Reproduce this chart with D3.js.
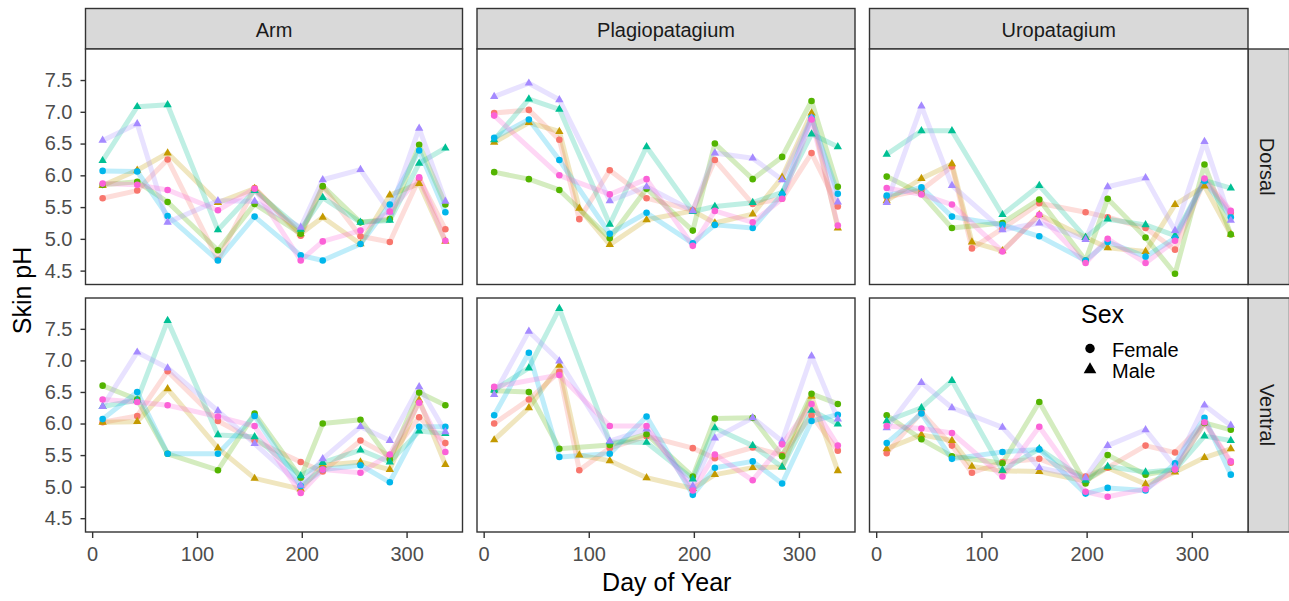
<!DOCTYPE html>
<html>
<head>
<meta charset="utf-8">
<script src="https://cdn.jsdelivr.net/npm/d3@7"></script>
<style>
  body { margin: 0; background: #fff; }
  svg { display: block; font-family: 'Liberation Sans', Arial, sans-serif; }
</style>
</head>
<body>
<svg id="chart" width="1289" height="601"></svg>
<script>
// sampling days (91 only for two bats in the membrane panels)
const days = [10, 43, 72, 91, 120, 155, 199, 220, 256, 284, 312, 337];
const bats = ['F1', 'M1', 'F2', 'M2', 'F3', 'M3', 'F4'];
const batSex = ['Female', 'Male', 'Female', 'Male', 'Female', 'Male', 'Female'];
const batColors = ['#F8766D', '#C49A00', '#53B400', '#00C094', '#00B6EB', '#A58AFF', '#FB61D7'];
const regions = ['Arm', 'Plagiopatagium', 'Uropatagium'];
const sides = ['Dorsal', 'Ventral'];
const xTicks = [0, 100, 200, 300];
const yTicks = [4.5, 5.0, 5.5, 6.0, 6.5, 7.0, 7.5];
const sexLevels = ['Female', 'Male'];

// one row per bat, one value per day
const dorsalArm = [
  [5.64, 5.76, 6.25, null, 4.67, 5.80, 5.05, 5.82, 5.04, 4.95, 5.95, 5.15],
  [5.84, 6.08, 6.35, null, 5.57, 5.79, 5.08, 5.34, 4.92, 5.69, 5.87, 4.96],
  [5.85, 5.90, 5.58, null, 4.82, 5.55, 5.08, 5.83, 5.26, 5.31, 6.48, 5.54],
  [6.23, 7.08, 7.11, null, 5.14, 5.76, 5.15, 5.65, 5.26, 5.29, 6.19, 6.43],
  [6.07, 6.06, 5.36, null, 4.66, 5.35, 4.74, 4.66, 4.92, 5.54, 6.39, 5.42],
  [6.55, 6.81, 5.26, null, 5.60, 5.59, 5.18, 5.93, 6.09, 5.42, 6.74, 5.59],
  [5.87, 5.85, 5.77, null, 5.45, 5.79, 4.66, 4.96, 5.13, 5.43, 5.97, 4.97]
];
const dorsalPlagio = [
  [6.98, 7.03, 6.56, 5.31, 6.08, 5.64, 5.45, 6.24, 5.55, 5.63, 6.35, 5.51],
  [6.52, 6.83, 6.69, 5.48, 4.91, 5.30, 5.44, 5.25, 5.39, 5.97, 6.98, 5.17],
  [6.05, 5.94, 5.77, null, 5.01, 5.79, 5.13, 6.50, 5.94, 6.29, 7.17, 5.82],
  [6.56, 7.20, 7.04, null, 5.23, 6.45, 5.43, 5.51, 5.57, 5.73, 6.65, 6.45],
  [6.59, 6.88, 6.24, null, 5.08, 5.41, 4.93, 5.22, 5.17, 5.70, 6.91, 5.71],
  [7.24, 7.45, 7.19, null, 5.60, 5.82, 5.44, 6.35, 6.27, 5.93, 6.90, 5.58],
  [6.94, null, 6.00, null, 5.70, 5.94, 4.89, 5.44, 5.26, 5.63, 6.88, 5.21]
];
const dorsalUro = [
  [5.66, 5.77, 6.14, 4.85, 5.16, 5.56, 5.42, 5.34, 5.17, 4.83, 5.92, 5.41],
  [5.60, 5.95, 6.18, 4.95, 4.81, 5.38, 5.02, 4.86, 4.80, 5.54, 5.83, 5.07],
  [5.98, 5.71, 5.17, null, 5.25, 5.62, 4.66, 5.63, 5.02, 4.45, 6.17, 5.07],
  [6.33, 6.70, 6.70, null, 5.38, 5.84, 5.02, 5.31, 5.22, 5.05, 5.92, 5.80],
  [5.68, 5.81, 5.35, null, 5.22, 5.04, 4.66, 4.95, 4.72, 5.01, 5.91, 5.34],
  [5.57, 7.09, 5.84, null, 5.14, 5.25, 4.99, 5.82, 5.96, 5.13, 6.53, 5.29],
  [5.80, 5.70, 5.54, null, 4.80, 5.38, 4.62, 5.00, 4.62, 4.97, 5.95, 5.44]
];
const ventralArm = [
  [6.02, 6.12, 6.83, null, 6.04, 5.73, 5.39, 5.24, 5.73, 5.48, 6.10, 5.69],
  [6.02, 6.03, 6.55, null, 5.61, 5.13, 4.96, 5.34, 5.39, 5.27, 6.37, 5.35],
  [6.60, 6.38, 5.52, null, 5.26, 6.16, 5.14, 6.00, 6.06, 5.43, 6.49, 6.29],
  [6.27, 6.37, 7.63, null, 5.82, 5.79, 5.17, 5.38, 5.58, 5.39, 5.88, 5.84],
  [6.07, 6.50, 5.52, null, 5.52, 6.12, 5.01, 5.27, 5.34, 5.07, 5.95, 5.95],
  [6.27, 7.13, 6.88, null, 6.20, 5.68, 5.02, 5.44, 5.95, 5.73, 6.58, 5.87],
  [6.38, 6.34, 6.29, null, 6.11, 5.96, 4.90, 5.27, 5.22, 5.51, 6.33, 5.55]
];
const ventralPlagio = [
  [6.00, 6.38, 6.82, 5.26, 5.61, 5.80, 5.61, 5.45, 5.62, 5.50, 6.13, 5.57],
  [5.74, 6.25, 6.92, 5.50, 5.41, 5.14, 4.97, 5.19, 5.30, 5.31, 6.43, 5.25],
  [6.52, 6.50, 5.60, null, 5.66, 5.83, 5.16, 6.08, 6.09, 5.48, 6.47, 6.31],
  [6.53, 6.88, 7.82, null, 5.71, 5.70, 5.12, 5.93, 5.65, 5.31, 6.21, 5.99],
  [6.13, 7.12, 5.47, null, 5.52, 6.11, 4.87, 5.30, 5.40, 5.05, 6.04, 6.14],
  [6.46, 7.46, 6.99, null, 5.72, 5.91, 5.01, 5.77, 6.09, 5.72, 7.07, 6.07],
  [6.58, null, 6.77, null, 5.96, 5.96, 4.94, 5.51, 5.10, 5.67, 6.31, 5.65]
];
const ventralUro = [
  [5.53, 6.18, 5.65, 5.22, 5.39, 5.44, 5.16, 5.30, 5.65, 5.54, 6.01, 5.38],
  [5.60, 5.82, 5.73, 5.32, 5.25, 5.24, 5.09, 5.30, 5.04, 5.23, 5.46, 5.60],
  [6.13, 5.75, 5.48, null, 5.37, 6.34, 5.05, 5.50, 5.19, 5.27, 6.01, 5.90],
  [6.04, 6.25, 6.68, null, 5.26, 5.60, 5.10, 5.32, 5.23, 5.27, 5.80, 5.73],
  [5.69, 6.16, 5.44, null, 5.55, 5.59, 4.89, 4.98, 4.94, 5.37, 6.09, 5.19],
  [5.93, 6.65, 6.25, null, 5.94, 5.30, 5.14, 5.65, 5.90, 5.32, 6.29, 5.97],
  [5.96, 5.92, 5.85, null, 5.16, 5.95, 4.92, 4.84, 4.96, 5.27, 6.02, 5.40]
];

const panelData = [
  [dorsalArm, dorsalPlagio, dorsalUro],
  [ventralArm, ventralPlagio, ventralUro]
];

// layout of the facet grid
const colX = [[85.5, 462.5], [477, 855], [869.5, 1248]];
const rowY = [[49, 284.5], [298, 532]];
const stripTop = 8.5;
const stripRight = 1289.5;
const ink = '#333333';

const svg = d3.select('#chart');

// shared scales like ggplot (5% expansion)
const allVals = panelData.flat(3).filter((v) => v != null);
const yMin = d3.min(allVals), yMax = d3.max(allVals);
const yPad = (yMax - yMin) * 0.05;
const xMin = d3.min(days), xMax = d3.max(days);
const xPad = (xMax - xMin) * 0.05;

const shapeFor = (sex) =>
  sex === 'Male' ? d3.symbol(d3.symbolTriangle, 30) : d3.symbol(d3.symbolCircle, 34);

const line = d3
  .line()
  .x((d) => d.x)
  .y((d) => d.y);

function drawPanel(r, c) {
  const x = d3.scaleLinear().domain([xMin - xPad, xMax + xPad]).range(colX[c]);
  const y = d3.scaleLinear().domain([yMin - yPad, yMax + yPad]).range([rowY[r][1], rowY[r][0]]);
  const [x0, x1] = colX[c];
  const [y0, y1] = rowY[r];

  svg.append('rect')
    .attr('x', x0).attr('y', y0)
    .attr('width', x1 - x0).attr('height', y1 - y0)
    .attr('fill', '#fff');

  const series = panelData[r][c].map((vals, i) => ({
    bat: i,
    pts: vals
      .map((v, j) => ({ day: days[j], v: v }))
      .filter((d) => d.v != null)
      .map((d) => ({ x: x(d.day), y: y(d.v) }))
  }));

  const g = svg.append('g');
  g.selectAll('path.trace')
    .data(series)
    .join('path')
    .attr('class', 'trace')
    .attr('d', (s) => line(s.pts))
    .attr('fill', 'none')
    .attr('stroke', (s) => batColors[s.bat])
    .attr('stroke-width', 5)
    .attr('stroke-linejoin', 'round')
    .attr('stroke-opacity', 0.25);

  series.forEach((s) => {
    g.selectAll(null)
      .data(s.pts)
      .join('path')
      .attr('transform', (d) => 'translate(' + d.x + ',' + d.y + ')')
      .attr('d', shapeFor(batSex[s.bat])())
      .attr('fill', batColors[s.bat]);
  });

  svg.append('rect')
    .attr('x', x0).attr('y', y0)
    .attr('width', x1 - x0).attr('height', y1 - y0)
    .attr('fill', 'none')
    .attr('stroke', ink)
    .attr('stroke-width', 1.4);

  if (c === 0) {
    const ax = svg.append('g')
      .attr('transform', 'translate(' + x0 + ',0)')
      .call(d3.axisLeft(y).tickValues(yTicks).tickFormat(d3.format('.1f')).tickSize(5).tickPadding(8));
    styleAxis(ax);
  }
  if (r === 1) {
    const ax = svg.append('g')
      .attr('transform', 'translate(0,' + y1 + ')')
      .call(d3.axisBottom(x).tickValues(xTicks).tickSize(6).tickPadding(9));
    styleAxis(ax);
  }
}

function styleAxis(ax) {
  ax.select('.domain').remove();
  ax.selectAll('.tick line').attr('stroke', ink).attr('stroke-width', 1.4);
  ax.selectAll('.tick text')
    .attr('fill', '#4D4D4D')
    .style('font-size', '20px')
    .style('font-family', "'Liberation Sans', Arial, sans-serif");
}

// column strips
regions.forEach((name, c) => {
  const [x0, x1] = colX[c];
  svg.append('rect')
    .attr('x', x0).attr('y', stripTop)
    .attr('width', x1 - x0).attr('height', rowY[0][0] - stripTop)
    .attr('fill', '#D9D9D9')
    .attr('stroke', ink)
    .attr('stroke-width', 1.4);
  svg.append('text')
    .attr('x', (x0 + x1) / 2)
    .attr('y', 36.5)
    .attr('text-anchor', 'middle')
    .attr('fill', '#1A1A1A')
    .style('font-size', '20px')
    .text(name);
});

// row strips
sides.forEach((name, r) => {
  const [y0, y1] = rowY[r];
  const x0 = colX[2][1];
  svg.append('rect')
    .attr('x', x0).attr('y', y0)
    .attr('width', stripRight - x0).attr('height', y1 - y0)
    .attr('fill', '#D9D9D9')
    .attr('stroke', ink)
    .attr('stroke-width', 1.4);
  svg.append('text')
    .attr('transform', 'translate(' + (x0 + 12) + ',' + (y0 + y1) / 2 + ') rotate(90)')
    .attr('text-anchor', 'middle')
    .attr('fill', '#1A1A1A')
    .style('font-size', '20px')
    .text(name);
});

for (let r = 0; r < sides.length; r++) {
  for (let c = 0; c < regions.length; c++) {
    drawPanel(r, c);
  }
}

// axis titles
svg.append('text')
  .attr('x', (colX[0][0] + colX[2][1]) / 2)
  .attr('y', 591)
  .attr('text-anchor', 'middle')
  .style('font-size', '25px')
  .text('Day of Year');

svg.append('text')
  .attr('transform', 'translate(31,' + (rowY[0][0] + rowY[1][1]) / 2 + ') rotate(-90)')
  .attr('text-anchor', 'middle')
  .style('font-size', '25px')
  .text('Skin pH');

// legend for shape (sex)
const legend = svg.append('g').attr('transform', 'translate(1081,0)');
legend.append('text')
  .attr('x', 0).attr('y', 323)
  .style('font-size', '25px')
  .text('Sex');
sexLevels.forEach((sex, i) => {
  const cy = 348.5 + i * 21;
  legend.append('path')
    .attr('transform', 'translate(9,' + cy + ')')
    .attr('d', sex === 'Male' ? d3.symbol(d3.symbolTriangle, 70)() : d3.symbol(d3.symbolCircle, 70)())
    .attr('fill', '#000');
  legend.append('text')
    .attr('x', 31).attr('y', cy + 8)
    .style('font-size', '20px')
    .text(sex);
});
</script>
</body>
</html>
